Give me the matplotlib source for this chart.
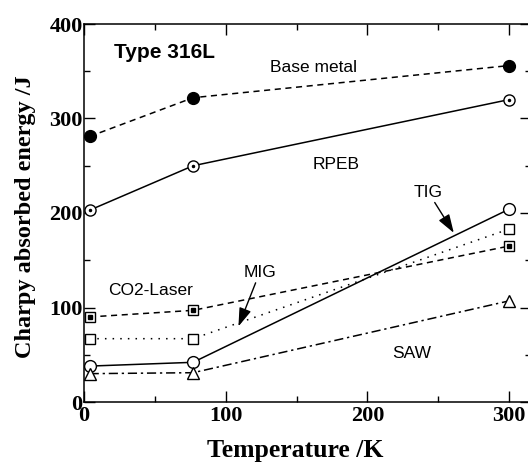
import matplotlib
matplotlib.use("Agg")
import matplotlib.pyplot as plt
from matplotlib.ticker import MultipleLocator

#--------------------
# data

temps = [4, 77, 300]

base_metal = [281, 322, 356]
rpeb = [203, 250, 320]
tig = [38, 42, 204]
co2_laser = [90, 97, 165]
mig = [67, 67, 183]
saw = [30, 31, 107]

serif = "Liberation Serif"
sans = "Liberation Sans"

#--------------------
# figure

fig = plt.figure(figsize=(5.28, 4.65), dpi=100)
ax = fig.add_axes([84 / 528, 63 / 465, 447 / 528, 378 / 465])

ms = 8
lw = 1.1

# base metal: filled circles, dashed
ax.plot(temps, base_metal, 'k--', lw=lw, dashes=(4, 3),
        marker='o', ms=ms + 0.5, mfc='k', mec='k', zorder=3)

# RPEB: circle with dot, solid
ax.plot(temps, rpeb, 'k-', lw=lw, marker='o', ms=ms, mfc='w', mec='k', mew=1.0, zorder=3)
ax.plot(temps, rpeb, 'k.', ms=3, ls='none', zorder=4)

# TIG: open circle, solid
ax.plot(temps, tig, 'k-', lw=lw, marker='o', ms=ms + 0.5, mfc='w', mec='k', mew=1.0, zorder=3)

# CO2-Laser: square with dot, dashed
ax.plot(temps, co2_laser, 'k--', lw=lw, dashes=(4, 3),
        marker='s', ms=ms - 1, mfc='w', mec='k', mew=1.0, zorder=3)
ax.plot(temps, co2_laser, 'ks', ms=2.5, ls='none', zorder=4)

# MIG: open square, dotted
ax.plot(temps, mig, 'k:', lw=lw, dashes=(1, 4),
        marker='s', ms=ms - 1, mfc='w', mec='k', mew=1.0, zorder=3)

# SAW: triangle, dash-dot
ax.plot(temps, saw, 'k-.', lw=lw, dashes=(6, 2.5, 1.5, 2.5),
        marker='^', ms=ms + 1, mfc='w', mec='k', mew=1.0, zorder=3)

#--------------------
# annotations

ax.text(57, 370, "Type 316L", fontsize=15, fontweight='bold', family=sans,
        ha='center', va='center')
ax.text(162, 354, "Base metal", fontsize=12.5, family=sans, ha='center', va='center')
ax.text(178, 251, "RPEB", fontsize=12.5, family=sans, ha='center', va='center')
ax.text(47, 118, "CO2-Laser", fontsize=12.5, family=sans, ha='center', va='center')
ax.text(231, 51, "SAW", fontsize=12.5, family=sans, ha='center', va='center')

arrow = dict(arrowstyle='-|>,head_length=0.9,head_width=0.3', color='k', lw=1.0,
             shrinkA=0, shrinkB=0)
ax.annotate("TIG", xy=(261, 179), xytext=(243, 222), fontsize=12.5, family=sans,
            ha='center', va='center', arrowprops=arrow)
ax.annotate("MIG", xy=(109, 80), xytext=(124, 137), fontsize=12.5, family=sans,
            ha='center', va='center', arrowprops=arrow)

#--------------------
# axes

ax.set_xlim(0, 315.5)
ax.set_ylim(0, 400)
ax.xaxis.set_major_locator(MultipleLocator(100))
ax.xaxis.set_minor_locator(MultipleLocator(50))
ax.yaxis.set_major_locator(MultipleLocator(100))
ax.yaxis.set_minor_locator(MultipleLocator(50))
ax.tick_params(which='both', direction='in', top=True, right=True, width=1.0)
ax.tick_params(which='major', length=8)
ax.tick_params(which='minor', length=4.5)
ax.tick_params(axis='x', pad=3)
ax.tick_params(axis='y', pad=1)
for spine in ax.spines.values():
    spine.set_linewidth(1.1)

for lab in ax.get_xticklabels() + ax.get_yticklabels():
    lab.set_family(serif)
    lab.set_fontweight('bold')
    lab.set_fontsize(16)

ax.set_xlabel("Temperature /K", fontsize=18.5, fontweight='bold', family=serif)
ax.xaxis.set_label_coords((295 - 84) / 447, -(450 - 402) / 378)
ax.xaxis.label.set_va('center')
ax.set_ylabel("Charpy absorbed energy /J", fontsize=17.5, fontweight='bold', family=serif)
ax.yaxis.set_label_coords(-(84 - 26) / 447, (402 - 217) / 378)
ax.yaxis.label.set_va('center')

plt.savefig("out.png", dpi=100)
